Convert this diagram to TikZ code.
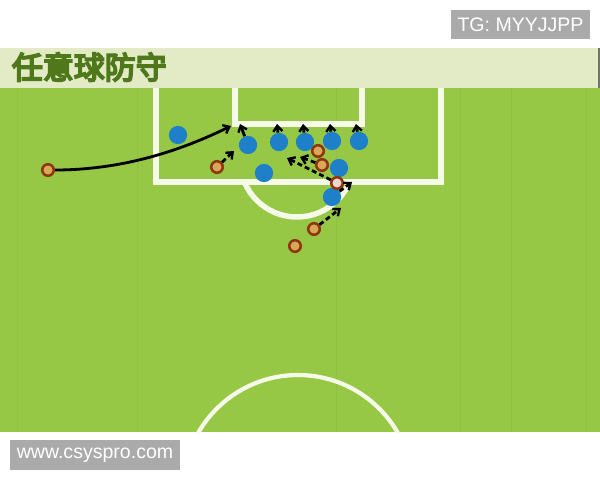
\documentclass[tikz,border=0pt]{standalone}
\usepackage{fontspec}
\setmainfont{Liberation Sans}
\newfontfamily\cjk{Noto Sans CJK SC}[FakeBold=6]
\usepackage{xcolor}
\usetikzlibrary{arrows.meta, positioning}

\definecolor{fieldgreen}{RGB}{150,200,70}
\definecolor{stripegreen}{RGB}{144,194,66}
\definecolor{headband}{RGB}{226,235,198}
\definecolor{titlegreen}{RGB}{78,120,26}
\definecolor{linewhite}{RGB}{246,250,232}
\definecolor{playerblue}{RGB}{30,128,200}
\definecolor{ringred}{RGB}{145,52,16}
\definecolor{ringfill}{RGB}{214,168,88}
\definecolor{kickfill}{RGB}{240,214,204}
\definecolor{taggray}{RGB}{170,170,170}

\begin{document}
\begin{tikzpicture}[x=0.025cm, y=-0.025cm,
        defender/.style={circle, fill=playerblue, minimum size=13pt, inner sep=0pt},
        attacker/.style={circle, draw=ringred, fill=ringfill, line width=1.8pt, minimum size=8.2pt, inner sep=0pt},
        kicker/.style={attacker, fill=kickfill},
        move/.style={-{Straight Barb[length=4pt, width=6.5pt, line width=1.7pt]}, line width=2pt},
        run/.style={move, dash pattern=on 3.5pt off 2.2pt},
        pitchline/.style={draw=linewhite, line width=3.9pt},
        tag/.style={rectangle, fill=taggray, text=white, inner sep=0pt, font=\fontsize{13.9}{16}\selectfont}
    ]
    \useasboundingbox (0,0) rectangle (600,480);

% Background and pitch
    \fill[white] (0,0) rectangle (600,480);
    \fill[fieldgreen] (0,88) rectangle (600,432);
    \foreach \sx in {17,137,336,460,511,586}
        \draw[stripegreen, line width=0.7pt] (\sx,88) -- (\sx,432);

% Penalty area and goal area
    \draw[pitchline] (156,88) -- (156,182) -- (441,182) -- (441,88);
    \draw[pitchline] (235,88) -- (235,124) -- (362,124) -- (362,88);
    \begin{scope}
        \clip (0,182) rectangle (600,432);
        \draw[pitchline] (297,160) circle [radius=57];
    \end{scope}

% Centre circle
    \begin{scope}
        \clip (0,88) rectangle (600,432);
        \draw[draw=linewhite, line width=3pt] (298,490) circle [radius=115];
    \end{scope}

% Title band
    \fill[headband] (0,48) rectangle (600,88);
    \draw[black!55, line width=0.8pt] (599,48) -- (599,88);
    \node[anchor=west, text=titlegreen, font=\cjk\fontsize{22}{24}\selectfont] (title) at (7,67) {任意球防守};

% Defenders
    \node[defender] (d1) at (178,135) {};
    \node[defender] (d2) at (248,145) {};
    \node[defender] (d3) at (279,142) {};
    \node[defender] (d4) at (305,142) {};
    \node[defender] (d5) at (332,141) {};
    \node[defender] (d6) at (359,141) {};
    \node[defender] (d7) at (264,173) {};
    \node[defender] (d8) at (339,168) {};
    \node[defender] (d9) at (332,197) {};

% Attackers
    \node[attacker] (a1) at (48,170) {};
    \node[attacker] (a2) at (217,167) {};
    \node[attacker] (a3) at (318,151) {};
    \node[attacker] (a4) at (322,165) {};
    \node[kicker] (a5) at (337,183) {};
    \node[attacker] (a6) at (314,229) {};
    \node[attacker] (a7) at (295,246) {};

% Free kick
    \coordinate (f0) at (231,126);
    \draw[move] (a1) .. controls (130,170) and (190,146) .. (f0);

% Defenders step up
    \coordinate (t2) at (240,124);
    \coordinate (t3) at (277,124);
    \coordinate (t4) at (303,124);
    \coordinate (t5) at (330,124);
    \coordinate (t6) at (356,124);
    \coordinate (t9) at (352,182);
    \draw[move] (d2) -- (t2);
    \draw[move] (d3) -- (t3);
    \draw[move] (d4) -- (t4);
    \draw[move] (d5) -- (t5);
    \draw[move] (d6) -- (t6);
    \draw[run] (d9) -- (t9);

% Attacking runs
    \coordinate (r2) at (234,151);
    \coordinate (r4) at (300,157);
    \coordinate (r5) at (287,158);
    \coordinate (r6) at (341,208);
    \draw[run] (a2) -- (r2);
    \draw[run] (a4) -- (r4);
    \draw[run] (a5) -- (r5);
    \draw[run] (a6) -- (r6);

% Watermarks
    \node[tag, minimum width=98.9pt, minimum height=20.6pt] (tg) at (520.5,24.5) {TG: MYYJJPP};
    \node[tag, minimum width=120.9pt, minimum height=21.3pt] (www) at (95,455) {www.csyspro.com};

\end{tikzpicture}
\end{document}
